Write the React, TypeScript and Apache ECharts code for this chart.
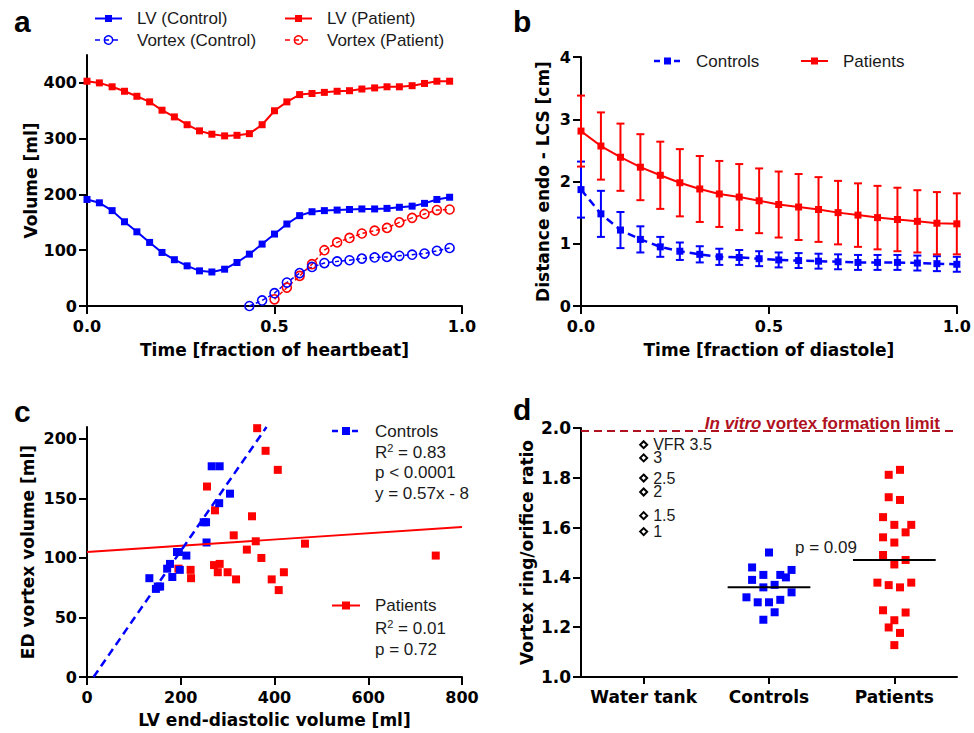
import React, { useEffect, useRef } from 'react';
import * as echarts from 'echarts';

// ---------------- Panel a: volumes over the heartbeat ----------------
const heartbeatTime = [0, 0.033, 0.067, 0.1, 0.133, 0.167, 0.2, 0.233, 0.267, 0.3, 0.333, 0.367, 0.4, 0.433, 0.467, 0.5, 0.533, 0.567, 0.6, 0.633, 0.667, 0.7, 0.733, 0.767, 0.8, 0.833, 0.867, 0.9, 0.933, 0.967];
const lvControl = [191, 185, 171, 151, 133, 114, 96, 83, 72, 63, 61, 66, 78, 93, 111, 129, 147, 162, 169, 171, 172, 173, 174, 174, 175, 177, 179, 184, 191, 195];
const lvPatient = [403, 400, 393, 385, 376, 366, 351, 339, 325, 314, 308, 305, 306, 309, 325, 350, 366, 379, 381, 383, 385, 386, 389, 391, 393, 393, 395, 399, 403, 403];
const vortexControl = [null, null, null, null, null, null, null, null, null, null, null, null, null, 0, 10, 23, 42, 59, 70, 77, 80, 82, 85, 87, 88, 90, 92, 94, 99, 104];
const vortexPatient = [null, null, null, null, null, null, null, null, null, null, null, null, null, null, null, 12, 33, 54, 75, 100, 114, 122, 130, 135, 140, 150, 158, 165, 172, 173];
const aYTicks = [0, 100, 200, 300, 400];

// ---------------- Panel b: distance endo - LCS over diastole ----------------
const diastoleTime = [0, 0.053, 0.105, 0.158, 0.211, 0.263, 0.316, 0.368, 0.421, 0.474, 0.526, 0.579, 0.632, 0.684, 0.737, 0.789, 0.842, 0.895, 0.947, 1.0];
const distControlMean = [1.87, 1.48, 1.22, 1.07, 0.95, 0.88, 0.83, 0.79, 0.78, 0.76, 0.74, 0.73, 0.72, 0.71, 0.70, 0.70, 0.70, 0.69, 0.68, 0.67];
const distControlSD = [0.45, 0.37, 0.29, 0.21, 0.16, 0.14, 0.13, 0.13, 0.12, 0.12, 0.12, 0.12, 0.12, 0.12, 0.12, 0.12, 0.12, 0.12, 0.12, 0.12];
const distPatientMean = [2.81, 2.57, 2.39, 2.23, 2.10, 1.98, 1.88, 1.80, 1.75, 1.69, 1.63, 1.59, 1.55, 1.50, 1.46, 1.42, 1.39, 1.36, 1.33, 1.32];
const distPatientSD = [0.57, 0.54, 0.54, 0.53, 0.54, 0.54, 0.53, 0.53, 0.53, 0.52, 0.53, 0.53, 0.52, 0.51, 0.51, 0.51, 0.51, 0.50, 0.50, 0.49];

// ---------------- Panel c: ED vortex volume vs LV EDV ----------------
const controlsEDV = [133, 147, 151, 156, 171, 177, 182, 192, 196, 198, 212, 249, 254, 255, 266, 283, 282, 305];
const controlsVortexVol = [83, 74, 76, 76, 91, 95, 84, 105, 105, 90, 102, 130, 130, 113, 177, 177, 146, 154];
const patientsEDV = [363, 381, 407, 256, 273, 352, 313, 360, 465, 341, 372, 744, 195, 221, 222, 271, 283, 279, 300, 318, 394, 420, 409];
const patientsVortexVol = [209, 190, 174, 160, 140, 135, 119, 114, 112, 107, 100, 102, 91, 90, 83, 94, 95, 88, 88, 82, 82, 88, 73];
const controlsFitX = [14, 383];
const controlsFitY = [0, 210];
const patientsFitX = [0, 800];
const patientsFitY = [105, 126];
const cYTicks = [0, 50, 100, 150, 200];

// ---------------- Panel d: vortex ring / orifice ratio ----------------
const groups = ['Water tank', 'Controls', 'Patients'];
const waterTankLabels = ['VFR 3.5', '3', '2.5', '2', '1.5', '1'];
const waterTankRatio = [1.933, 1.880, 1.799, 1.743, 1.648, 1.584];
const controlsRatio = [1.50, 1.44, 1.41, 1.41, 1.43, 1.40, 1.39, 1.36, 1.37, 1.34, 1.32, 1.30, 1.30, 1.31, 1.26, 1.23];
const controlsSlot = [0, -3, -1, 2, 4, 3, -3, -1, 1, 4, -4, -2, 0, 2, 1, -1];
const patientsRatio = [1.812, 1.832, 1.722, 1.711, 1.642, 1.611, 1.611, 1.561, 1.581, 1.540, 1.490, 1.470, 1.452, 1.379, 1.369, 1.360, 1.379, 1.268, 1.259, 1.228, 1.199, 1.177, 1.128];
const patientsSlot = [-1, 1, -1, 1, -2, 0, 3, -2, 2, 0, -2, 2, 0, -3, -1, 1, 3, -2, 2, 0, -1, 1, 0];
const groupMeans = [1.36, 1.47];
const vortexLimit = 1.985;

// ---------------- styles ----------------
const BLUE = '#0000ff';
const RED = '#ff0000';
const DARK_RED = '#b0121f';
const TXT = '#1a1a1a';
const BOLD_FONT = 'DejaVu Sans';
const REG_FONT = 'Liberation Sans';
const SLOT = 0.045;
const MEAN_HALF = 0.33;

function axis(type: string, gridIndex: number, extra: any = {}) {
  const { axisLabel = {}, axisTick = {}, ...rest } = extra;
  return {
    type,
    gridIndex,
    axisLine: { show: true, onZero: false, lineStyle: { color: '#000', width: 2 } },
    axisTick: { show: true, length: 8, lineStyle: { color: '#000', width: 2 }, ...axisTick },
    axisLabel: { color: '#000', fontFamily: BOLD_FONT, fontWeight: 'bold', fontSize: 16, margin: 10, ...axisLabel },
    splitLine: { show: false },
    nameLocation: 'middle',
    nameTextStyle: { color: '#000', fontFamily: BOLD_FONT, fontWeight: 'bold', fontSize: 17 },
    ...rest,
  };
}

const fmt1 = (v: number) => v.toFixed(1);

function errorBars(xIdx: number, yIdx: number, xs: number[], mean: number[], sd: number[], color: string) {
  return {
    type: 'custom',
    xAxisIndex: xIdx,
    yAxisIndex: yIdx,
    z: 2,
    silent: true,
    encode: { x: 0, y: [1, 2] },
    data: xs.map((x, i) => [x, mean[i] - sd[i], mean[i] + sd[i]]),
    renderItem: (params: any, api: any) => {
      const lo = api.coord([api.value(0), api.value(1)]);
      const hi = api.coord([api.value(0), api.value(2)]);
      const cap = 4;
      const style = { stroke: color, lineWidth: 2 };
      return {
        type: 'group',
        children: [
          { type: 'line', shape: { x1: lo[0], y1: lo[1], x2: hi[0], y2: hi[1] }, style },
          { type: 'line', shape: { x1: lo[0] - cap, y1: lo[1], x2: lo[0] + cap, y2: lo[1] }, style },
          { type: 'line', shape: { x1: hi[0] - cap, y1: hi[1], x2: hi[0] + cap, y2: hi[1] }, style },
        ],
      };
    },
  };
}

function txt(x: number, y: number, text: string, extra: any = {}) {
  return {
    type: 'text',
    x,
    y,
    silent: true,
    style: {
      text,
      fill: TXT,
      fontFamily: REG_FONT,
      fontSize: 17,
      align: 'left',
      textAlign: 'left',
      verticalAlign: 'middle',
      textVerticalAlign: 'middle',
      ...extra,
    },
  };
}

const supRich = {
  sup: { fontSize: 11, fontFamily: REG_FONT, fill: TXT, verticalAlign: 'top', lineHeight: 20 },
  n: { fontSize: 17, fontFamily: REG_FONT, fill: TXT, lineHeight: 20 },
};

function legLine(x1: number, x2: number, y: number, color: string, dash?: number[], width = 2) {
  return {
    type: 'line',
    silent: true,
    shape: { x1, y1: y, x2, y2: y },
    style: { stroke: color, lineWidth: width, lineDash: dash || null },
  };
}
function legSquare(cx: number, cy: number, color: string, size = 7) {
  return { type: 'rect', silent: true, shape: { x: cx - size / 2, y: cy - size / 2, width: size, height: size }, style: { fill: color } };
}
function legCircle(cx: number, cy: number, color: string) {
  return { type: 'circle', silent: true, shape: { cx, cy, r: 4.2 }, style: { fill: 'none', stroke: color, lineWidth: 1.5 } };
}

function panelLabel(x: number, y: number, t: string) {
  return txt(x, y, t, { fontSize: 30, fontWeight: 'bold', fill: '#000' });
}

export default function App() {
  const ref = useRef<HTMLDivElement>(null);

  useEffect(() => {
    if (!ref.current) return;
    const chart = echarts.init(ref.current, undefined, { renderer: 'svg' });

    const option: any = {
      animation: false,
      backgroundColor: '#fff',
      grid: [
        { left: 87, top: 55, width: 375, height: 251 },
        { left: 581, top: 57, width: 376, height: 249 },
        { left: 87, top: 427, width: 375, height: 250 },
        { left: 581, top: 428, width: 376, height: 249 },
      ],
      xAxis: [
        axis('value', 0, { min: 0, max: 1, interval: 0.5, name: 'Time [fraction of heartbeat]', nameGap: 35, axisLabel: { formatter: fmt1, margin: 12 } }),
        axis('value', 1, { min: 0, max: 1, interval: 0.5, name: 'Time [fraction of diastole]', nameGap: 35, axisLabel: { formatter: fmt1, margin: 12 } }),
        axis('value', 2, { min: 0, max: 800, interval: 200, name: 'LV end-diastolic volume [ml]', nameGap: 34, axisLabel: { margin: 12 } }),
        axis('category', 3, {
          data: groups,
          axisTick: { alignWithLabel: true, length: 7, interval: 0 },
          axisLabel: { fontSize: 17, margin: 11, interval: 0, hideOverlap: false },
        }),
        { type: 'value', gridIndex: 3, min: 0, max: 3, show: false },
      ],
      yAxis: [
        axis('value', 0, {
          min: 0, max: 450, name: 'Volume [ml]', nameGap: 43,
          axisLabel: { customValues: aYTicks },
          axisTick: { customValues: aYTicks },
        }),
        axis('value', 1, { min: 0, max: 4, interval: 1, name: 'Distance endo - LCS [cm]', nameGap: 30 }),
        axis('value', 2, {
          min: 0, max: 210, name: 'ED vortex volume [ml]', nameGap: 51,
          axisLabel: { customValues: cYTicks },
          axisTick: { customValues: cYTicks },
        }),
        axis('value', 3, { min: 1, max: 2, interval: 0.2, name: 'Vortex ring/orifice ratio', nameGap: 46, axisLabel: { formatter: fmt1, fontSize: 17 } }),
      ],
      series: [
        // ---- a ----
        {
          name: 'LV (Control)', type: 'line', xAxisIndex: 0, yAxisIndex: 0,
          data: heartbeatTime.map((t, i) => [t, lvControl[i]]),
          symbol: 'rect', symbolSize: 7, itemStyle: { color: BLUE }, lineStyle: { color: BLUE, width: 2 },
        },
        {
          name: 'LV (Patient)', type: 'line', xAxisIndex: 0, yAxisIndex: 0,
          data: heartbeatTime.map((t, i) => [t, lvPatient[i]]),
          symbol: 'rect', symbolSize: 7, itemStyle: { color: RED }, lineStyle: { color: RED, width: 2 },
        },
        {
          name: 'Vortex (Patient)', type: 'line', xAxisIndex: 0, yAxisIndex: 0,
          data: heartbeatTime.map((t, i) => [t, vortexPatient[i]]),
          symbol: 'circle', symbolSize: 9,
          itemStyle: { color: 'rgba(255,255,255,0)', borderColor: RED, borderWidth: 1.6 },
          lineStyle: { color: RED, width: 1.5, type: [4, 3] },
        },
        {
          name: 'Vortex (Control)', type: 'line', xAxisIndex: 0, yAxisIndex: 0,
          data: heartbeatTime.map((t, i) => [t, vortexControl[i]]),
          symbol: 'circle', symbolSize: 9,
          itemStyle: { color: 'rgba(255,255,255,0)', borderColor: BLUE, borderWidth: 1.6 },
          lineStyle: { color: BLUE, width: 1.5, type: [4, 3] },
        },
        // ---- b ----
        errorBars(1, 1, diastoleTime, distControlMean, distControlSD, BLUE),
        {
          name: 'Controls', type: 'line', xAxisIndex: 1, yAxisIndex: 1, z: 3,
          data: diastoleTime.map((t, i) => [t, distControlMean[i]]),
          symbol: 'rect', symbolSize: 7, itemStyle: { color: BLUE }, lineStyle: { color: BLUE, width: 2.5, type: [8, 5] },
        },
        errorBars(1, 1, diastoleTime, distPatientMean, distPatientSD, RED),
        {
          name: 'Patients', type: 'line', xAxisIndex: 1, yAxisIndex: 1, z: 3,
          data: diastoleTime.map((t, i) => [t, distPatientMean[i]]),
          symbol: 'rect', symbolSize: 7, itemStyle: { color: RED }, lineStyle: { color: RED, width: 2 },
        },
        // ---- c ----
        {
          name: 'Patients fit', type: 'line', xAxisIndex: 2, yAxisIndex: 2, symbol: 'none', silent: true,
          data: patientsFitX.map((x, i) => [x, patientsFitY[i]]),
          lineStyle: { color: RED, width: 1.8 },
        },
        {
          name: 'Controls fit', type: 'line', xAxisIndex: 2, yAxisIndex: 2, symbol: 'none', silent: true,
          data: controlsFitX.map((x, i) => [x, controlsFitY[i]]),
          lineStyle: { color: BLUE, width: 2.5, type: [8, 5] },
        },
        {
          name: 'Patients EDV', type: 'scatter', xAxisIndex: 2, yAxisIndex: 2, symbol: 'rect', symbolSize: 8,
          data: patientsEDV.map((x, i) => [x, patientsVortexVol[i]]), itemStyle: { color: RED, opacity: 1 },
        },
        {
          name: 'Controls EDV', type: 'scatter', xAxisIndex: 2, yAxisIndex: 2, symbol: 'rect', symbolSize: 8,
          data: controlsEDV.map((x, i) => [x, controlsVortexVol[i]]), itemStyle: { color: BLUE, opacity: 1 },
        },
        // ---- d ----
        {
          name: 'Water tank', type: 'scatter', xAxisIndex: 4, yAxisIndex: 3, symbol: 'diamond', symbolSize: 7,
          data: waterTankRatio.map((v, i) => ({ name: waterTankLabels[i], value: [0 + 0.5, v] })),
          itemStyle: { color: '#fff', borderColor: '#000', borderWidth: 2, opacity: 1 },
          label: {
            show: true, position: 'right', distance: 5, formatter: '{b}', color: TXT,
            fontFamily: REG_FONT, fontSize: 16, lineHeight: 12, padding: 0,
          },
          labelLayout: { hideOverlap: false },
          markLine: {
            silent: true, symbol: ['none', 'none'], label: { show: false },
            lineStyle: { color: DARK_RED, width: 2, type: [8, 5] },
            data: [{ yAxis: vortexLimit }],
          },
        },
        {
          name: 'Controls ratio', type: 'scatter', xAxisIndex: 4, yAxisIndex: 3, symbol: 'rect', symbolSize: 8,
          data: controlsRatio.map((v, i) => [1 + 0.5 + controlsSlot[i] * SLOT, v]), itemStyle: { color: BLUE, opacity: 1 },
        },
        {
          name: 'Patients ratio', type: 'scatter', xAxisIndex: 4, yAxisIndex: 3, symbol: 'rect', symbolSize: 8,
          data: patientsRatio.map((v, i) => [2 + 0.5 + patientsSlot[i] * SLOT, v]), itemStyle: { color: RED, opacity: 1 },
        },
        ...groupMeans.map((m, gi) => ({
          name: groups[gi + 1] + ' mean', type: 'line', xAxisIndex: 4, yAxisIndex: 3, symbol: 'none', silent: true, z: 4,
          data: [[gi + 1 + 0.5 - MEAN_HALF, m], [gi + 1 + 0.5 + MEAN_HALF, m]],
          lineStyle: { color: '#000', width: 2 },
        })),
      ],
      graphic: {
        elements: [
          panelLabel(14, 21.5, 'a'),
          panelLabel(513, 21.5, 'b'),
          panelLabel(14, 411, 'c'),
          panelLabel(513, 409.5, 'd'),
          // legend a
          legLine(95, 122, 18.5, BLUE),
          legSquare(108.5, 18.5, BLUE),
          txt(137, 18.5, 'LV (Control)'),
          legLine(95, 122, 40, BLUE, [5, 4], 1.5),
          legCircle(108.5, 40, BLUE),
          txt(137, 40, 'Vortex (Control)'),
          legLine(285, 312, 18.5, RED),
          legSquare(298.5, 18.5, RED),
          txt(327, 18.5, 'LV (Patient)'),
          legLine(285, 312, 40, RED, [5, 4], 1.5),
          legCircle(298.5, 40, RED),
          txt(327, 40, 'Vortex (Patient)'),
          // legend b
          legLine(654, 681, 61, BLUE, [6, 4], 2.5),
          legSquare(667.5, 61, BLUE),
          txt(696, 61, 'Controls'),
          legLine(801, 828, 61, RED),
          legSquare(814.5, 61, RED),
          txt(843, 61, 'Patients'),
          // legend c
          legLine(332, 360, 431, BLUE, [6, 4], 2.5),
          legSquare(346, 431, BLUE, 8),
          txt(375, 431, 'Controls'),
          txt(375, 452, '{n|R}{sup|2}{n| = 0.83}', { rich: supRich }),
          txt(375, 472.5, 'p < 0.0001'),
          txt(375, 493, 'y = 0.57x - 8'),
          legLine(332, 360, 605.5, RED),
          legSquare(346, 605.5, RED, 8),
          txt(375, 605.5, 'Patients'),
          txt(375, 628, '{n|R}{sup|2}{n| = 0.01}', { rich: supRich }),
          txt(375, 649, 'p = 0.72'),
          // panel d annotations
          txt(940, 423.5, '{it|In vitro} vortex formation limit', {
            align: 'right', textAlign: 'right', fill: DARK_RED, fontWeight: 'bold', fontSize: 17,
            rich: { it: { fontStyle: 'italic', fontWeight: 'bold', fontSize: 17, fontFamily: REG_FONT, fill: DARK_RED } },
          }),
          txt(795, 547, 'p = 0.09'),
        ],
      },
    };

    chart.setOption(option);
    return () => chart.dispose();
  }, []);

  return <div ref={ref} style={{ position: 'absolute', left: 0, top: 0, width: 974, height: 733 }} />;
}
